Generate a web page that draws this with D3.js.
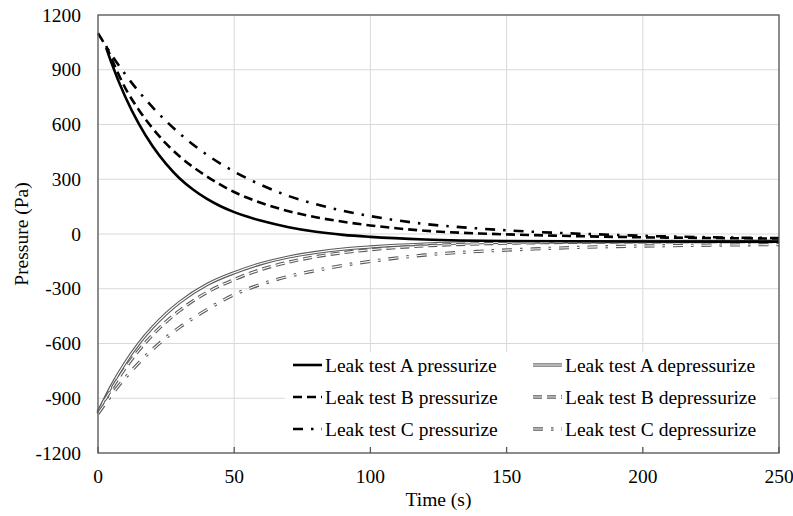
<!DOCTYPE html>
<html>
<head>
<meta charset="utf-8">
<script src="https://cdn.jsdelivr.net/npm/d3@7"></script>
<style>
  body { margin: 0; background: #fff; }
  svg { display: block; font-family: "Liberation Serif", "Times New Roman", serif; }
  .grid line { stroke: #d9d9d9; stroke-width: 1; }
  .tick-label { font-size: 19.5px; fill: #000; }
</style>
</head>
<body>
<script>
// values, time in s, pressure in Pa
var timeA = [3, 5, 10, 15, 20, 25, 30, 35, 40, 45, 50, 55, 60, 70, 80, 90, 100, 120, 150, 200, 250];
var pressA = [1020, 935, 752, 603, 482, 384, 304, 242, 192, 152, 120, 94, 72, 37, 12, -5, -16, -30, -38, -41, -42];

var timeB = [3, 5, 10, 15, 20, 25, 30, 40, 50, 60, 70, 80, 90, 100, 120, 140, 160, 180, 200, 225, 250];
var pressB = [1030, 960, 800, 680, 580, 495, 425, 315, 230, 170, 125, 92, 67, 47, 18, 3, -6, -13, -18, -22, -25];

var timeC = [0, 5, 10, 15, 20, 25, 30, 40, 50, 60, 70, 80, 90, 100, 120, 140, 160, 180, 200, 225, 250];
var pressC = [1100, 981, 875, 780, 695, 619, 550, 434, 342, 268, 208, 163, 127, 98, 55, 30, 12, 0, -10, -18, -22];

var timeDep = [0, 5, 10, 15, 20, 25, 30, 40, 50, 60, 70, 80, 90, 100, 120, 140, 160, 200, 250];
var depA = [-980, -831, -706, -600, -512, -437, -374, -277, -212, -162, -126, -101, -83, -71, -55, -47, -44, -41, -40];
var depB = [-975, -848, -735, -637, -553, -481, -419, -320, -249, -194, -154, -124, -102, -86, -65, -54, -48, -43, -41];

var timeDepC = [0, 5, 10, 15, 20, 25, 30, 40, 50, 60, 70, 80, 90, 100, 120, 140, 160, 180, 200, 225, 250];
var depC = [-985, -881, -788, -706, -633, -568, -511, -414, -332, -275, -232, -200, -172, -150, -115, -95, -82, -72, -66, -61, -58];

var xTicks = [0, 50, 100, 150, 200, 250];
var yTicks = [-1200, -900, -600, -300, 0, 300, 600, 900, 1200];

var seriesNames = [
  "Leak test A pressurize", "Leak test A depressurize",
  "Leak test B pressurize", "Leak test B depressurize",
  "Leak test C pressurize", "Leak test C depressurize"
];

var width = 793, height = 516;
var margin = { left: 98, right: 14, top: 15, bottom: 63 };

var x = d3.scaleLinear().domain([0, 250]).range([margin.left, width - margin.right]);
var y = d3.scaleLinear().domain([-1200, 1200]).range([height - margin.bottom, margin.top]);

var svg = d3.select("body").append("svg")
  .attr("width", width)
  .attr("height", height);

// gridlines
var grid = svg.append("g").attr("class", "grid");
grid.selectAll(".hg").data(yTicks).enter()
  .append("line")
  .attr("x1", x(0)).attr("x2", x(250))
  .attr("y1", function(d) { return y(d); })
  .attr("y2", function(d) { return y(d); });
grid.selectAll(".vg").data(xTicks).enter()
  .append("line")
  .attr("y1", y(-1200)).attr("y2", y(1200))
  .attr("x1", function(d) { return x(d); })
  .attr("x2", function(d) { return x(d); });

function pts(ts, vs) {
  return ts.map(function(t, i) { return [t, vs[i]]; });
}

var line = d3.line()
  .x(function(d) { return x(d[0]); })
  .y(function(d) { return y(d[1]); })
  .curve(d3.curveMonotoneX);

var styles = [
  { data: pts(timeA, pressA), color: "#000", w: 2.6, dash: null, dep: false },
  { data: pts(timeDep, depA), color: "#5a5a5a", w: 3.3, dash: null, dep: true },
  { data: pts(timeB, pressB), color: "#000", w: 2.6, dash: "9,5", dep: false },
  { data: pts(timeDep, depB), color: "#5a5a5a", w: 3.3, dash: "9,5", dep: true },
  { data: pts(timeC, pressC), color: "#000", w: 2.6, dash: "10,8,2.5,8", dep: false },
  { data: pts(timeDepC, depC), color: "#5a5a5a", w: 3.3, dash: "10,8,2.5,8", dep: true }
];

var plot = svg.append("g");
// depressurize first, pressurize on top
[1, 3, 5, 0, 2, 4].forEach(function(i) {
  var s = styles[i];
  plot.append("path")
    .attr("d", line(s.data))
    .attr("fill", "none")
    .attr("stroke", s.color)
    .attr("stroke-width", s.w)
    .attr("stroke-dasharray", s.dash);
  if (s.dep) {
    plot.append("path")
      .attr("d", line(s.data))
      .attr("fill", "none")
      .attr("stroke", "#fff")
      .attr("stroke-width", 1.1)
      .attr("stroke-dasharray", s.dash);
  }
});

// legend
var lg = svg.append("g");
lg.append("rect")
  .attr("x", 285).attr("y", 352)
  .attr("width", 485).attr("height", 95)
  .attr("fill", "#fff");

seriesNames.forEach(function(name, i) {
  var s = styles[i];
  var col = i % 2, row = Math.floor(i / 2);
  var lx = col === 0 ? 293 : 533;
  var ly = 365 + row * 32;
  lg.append("line")
    .attr("x1", lx).attr("x2", lx + 29)
    .attr("y1", ly).attr("y2", ly)
    .attr("stroke", s.color)
    .attr("stroke-width", s.w)
    .attr("stroke-dasharray", s.dash);
  if (s.dep) {
    lg.append("line")
      .attr("x1", lx).attr("x2", lx + 29)
      .attr("y1", ly).attr("y2", ly)
      .attr("stroke", "#fff")
      .attr("stroke-width", 1.1)
      .attr("stroke-dasharray", s.dash);
  }
  lg.append("text")
    .attr("class", "tick-label")
    .attr("x", lx + 32)
    .attr("y", ly + 6.5)
    .text(name);
});

// frame and inner ticks
var frame = svg.append("g").attr("stroke", "#595959").attr("stroke-width", 1.3);
frame.append("rect")
  .attr("x", x(0)).attr("y", y(1200))
  .attr("width", x(250) - x(0)).attr("height", y(-1200) - y(1200))
  .attr("fill", "none");
frame.selectAll(".xt").data(xTicks).enter()
  .append("line")
  .attr("x1", function(d) { return x(d); })
  .attr("x2", function(d) { return x(d); })
  .attr("y1", y(-1200)).attr("y2", y(-1200) - 6);

// tick labels
svg.selectAll(".ylab").data(yTicks).enter()
  .append("text")
  .attr("class", "tick-label")
  .attr("x", 81)
  .attr("y", function(d) { return y(d) + 6.5; })
  .attr("text-anchor", "end")
  .text(function(d) { return d; });

svg.selectAll(".xlab").data(xTicks).enter()
  .append("text")
  .attr("class", "tick-label")
  .attr("x", function(d) { return x(d); })
  .attr("y", 483)
  .attr("text-anchor", "middle")
  .text(function(d) { return d; });

// axis titles
svg.append("text")
  .attr("class", "tick-label")
  .attr("x", (x(0) + x(250)) / 2)
  .attr("y", 506)
  .attr("text-anchor", "middle")
  .text("Time (s)");

svg.append("text")
  .attr("class", "tick-label")
  .attr("transform", "translate(28," + y(0) + ") rotate(-90)")
  .attr("text-anchor", "middle")
  .text("Pressure (Pa)");
</script>
</body>
</html>
